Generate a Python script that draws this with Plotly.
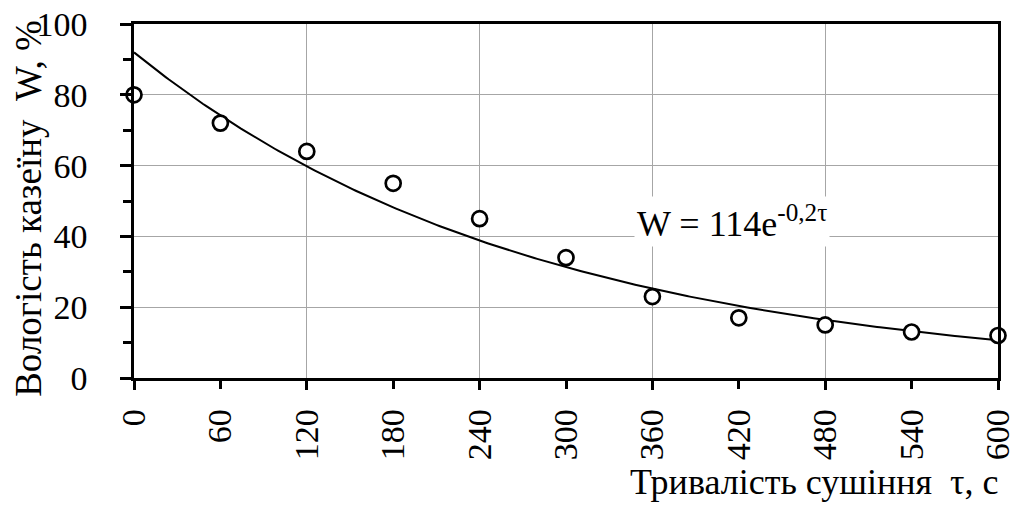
import numpy as np
import plotly.graph_objects as go

# Data
tau = [0, 60, 120, 180, 240, 300, 360, 420, 480, 540, 600]
moisture = [80, 72, 64, 55, 45, 34, 23, 17, 15, 13, 12]
x_ticks = [0, 60, 120, 180, 240, 300, 360, 420, 480, 540, 600]
y_ticks = [0, 20, 40, 60, 80, 100]

# Exponential trendline (least squares on log values, as in a spreadsheet trendline)
slope, intercept = np.polyfit(tau, np.log(moisture), 1)
xf = np.linspace(0, 600, 301)
yf = np.exp(intercept + slope * xf)

FONT = "Liberation Serif, Times New Roman, serif"
FS_TICK = 34
FS_TITLE = 36
FS_EQ = 36

fig = go.Figure()
fig.add_trace(go.Scatter(x=xf, y=yf, mode="lines", line=dict(color="black", width=2),
                         cliponaxis=False, hoverinfo="skip"))
fig.add_trace(go.Scatter(x=tau, y=moisture, mode="markers",
                         marker=dict(symbol="circle", size=15, color="white",
                                     line=dict(color="black", width=2.7)),
                         cliponaxis=False))

fig.update_layout(
    width=1018, height=508,
    margin=dict(l=134, r=20, t=24, b=130, autoexpand=False),
    paper_bgcolor="white", plot_bgcolor="white",
    showlegend=False,
    font=dict(family=FONT, size=FS_TICK, color="black"),
    xaxis=dict(range=[0, 600], tickvals=x_ticks, tickangle=-90, automargin=False,
               showgrid=False, zeroline=False,
               showline=True, linecolor="black", linewidth=2.5, mirror=True,
               ticks="outside", ticklen=8, tickwidth=2.5, tickcolor="black",
               ticklabelstandoff=7,
               tickfont=dict(family=FONT, size=FS_TICK, color="black")),
    xaxis2=dict(range=[0, 600], overlaying="x", anchor="y", side="bottom",
                dtick=120, tick0=0, showticklabels=False, automargin=False,
                showgrid=True, gridcolor="#a6a6a6", gridwidth=1.2, zeroline=False,
                showline=False, ticks="outside", ticklen=11, tickwidth=2.5,
                tickcolor="black"),
    yaxis=dict(range=[0, 100], tickvals=y_ticks, automargin=False,
               showgrid=True, gridcolor="#a6a6a6", gridwidth=1.2, zeroline=False,
               showline=True, linecolor="black", linewidth=2.5, mirror=True,
               ticks="outside", ticklen=11, tickwidth=2.5, tickcolor="black",
               ticklabelstandoff=26,
               minor=dict(dtick=10, ticks="outside", ticklen=8, tickwidth=2.5,
                          tickcolor="black", showgrid=False),
               tickfont=dict(family=FONT, size=FS_TICK, color="black")),
)
# empty trace to activate xaxis2 (its grid and major ticks)
fig.add_trace(go.Scatter(x=[None], y=[None], xaxis="x2", yaxis="y", showlegend=False))

fig.add_annotation(text="Вологість казеїну\u00a0\u00a0W, %", textangle=-90,
                   xref="paper", yref="paper", x=-0.123, y=0.48,
                   xanchor="center", yanchor="middle",
                   showarrow=False, font=dict(family=FONT, size=37, color="black"))
fig.add_annotation(text="Тривалість сушіння\u00a0\u00a0τ, с",
                   xref="paper", yref="paper", x=1.003, y=-0.294,
                   xanchor="right", yanchor="middle",
                   showarrow=False, font=dict(family=FONT, size=FS_TITLE, color="black"))
fig.add_annotation(text="W = 114e<sup>-0,2τ</sup>",
                   xref="x", yref="y", x=415, y=44.3,
                   showarrow=False, bgcolor="white", borderpad=2,
                   font=dict(family=FONT, size=FS_EQ, color="black"))

fig.write_html("out.html", config={"displayModeBar": False},
               post_script="document.body.style.margin='0';")
